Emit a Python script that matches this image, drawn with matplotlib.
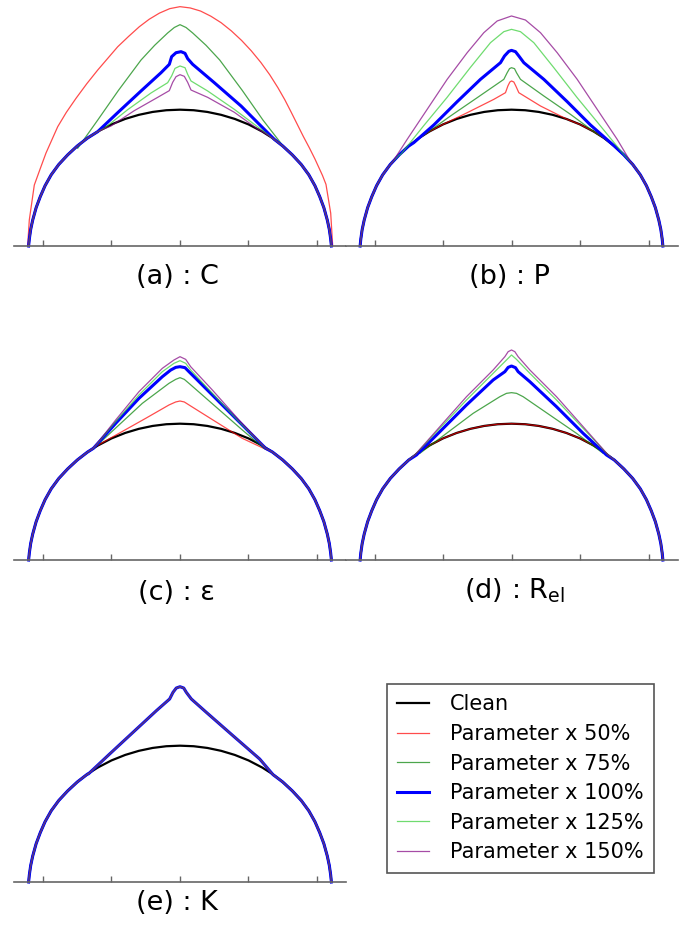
import matplotlib
matplotlib.use("Agg")
import matplotlib.pyplot as plt

# clean leading edge (x, y), one unit = one tick step
CLEAN = [(-2.21, 0.0), (-2.20, 0.10), (-2.18, 0.24), (-2.15, 0.38), (-2.10, 0.56),
         (-2.04, 0.72), (-1.97, 0.88), (-1.88, 1.04), (-1.77, 1.19), (-1.64, 1.33),
         (-1.50, 1.46), (-1.35, 1.576), (-1.20, 1.671), (-1.00, 1.775), (-0.80, 1.855),
         (-0.60, 1.915), (-0.40, 1.957), (-0.20, 1.982), (0.0, 1.99),
         (0.20, 1.982), (0.40, 1.957), (0.60, 1.915), (0.80, 1.855), (1.00, 1.775),
         (1.20, 1.671), (1.35, 1.576), (1.50, 1.46), (1.64, 1.33), (1.77, 1.19),
         (1.88, 1.04), (1.97, 0.88), (2.04, 0.72), (2.10, 0.56), (2.15, 0.38),
         (2.18, 0.24), (2.20, 0.10), (2.21, 0.0)]

# ice shapes: only the part that leaves the clean shape
# (a) : C
A50 = [(-2.224, 0.0), (-2.20, 0.38), (-2.127, 0.89), (-2.04, 1.13), (-1.956, 1.358),
       (-1.785, 1.742), (-1.66, 1.95), (-1.518, 2.156), (-1.36, 2.37), (-1.201, 2.569),
       (-1.05, 2.745), (-0.909, 2.909), (-0.75, 3.06), (-0.594, 3.201), (-0.45, 3.31),
       (-0.30, 3.40), (-0.15, 3.465), (0.0, 3.494), (0.15, 3.475), (0.30, 3.43),
       (0.45, 3.355), (0.60, 3.26), (0.75, 3.14), (0.90, 3.00), (1.04, 2.85), (1.18, 2.68),
       (1.31, 2.50), (1.43, 2.31), (1.53, 2.135), (1.62, 1.96), (1.71, 1.78), (1.80, 1.60),
       (1.89, 1.43), (1.97, 1.27), (2.08, 1.03), (2.131, 0.90), (2.20, 0.48), (2.229, 0.0)]
A75 = [(-1.494, 1.426), (-1.20, 1.84), (-0.90, 2.27), (-0.569, 2.715), (-0.37, 2.93),
       (-0.18, 3.11), (-0.083, 3.19), (0.0, 3.231), (0.088, 3.19), (0.185, 3.11),
       (0.38, 2.93), (0.58, 2.715), (0.91, 2.27), (1.21, 1.84), (1.52, 1.44)]
A100 = [(-1.202, 1.669), (-0.910, 1.946), (-0.569, 2.263), (-0.277, 2.530), (-0.156, 2.652),
        (-0.122, 2.764), (-0.058, 2.822), (0.015, 2.837), (0.073, 2.813), (0.112, 2.735),
        (0.185, 2.652), (0.501, 2.384), (0.891, 2.044), (1.134, 1.800), (1.377, 1.557)]
A125 = [(-1.105, 1.718), (-0.764, 1.990), (-0.423, 2.234), (-0.180, 2.384), (-0.122, 2.482),
        (-0.073, 2.593), (0.0, 2.628), (0.073, 2.603), (0.112, 2.506), (0.161, 2.409),
        (0.404, 2.263), (0.793, 1.995), (1.182, 1.703), (1.339, 1.581)]
A150 = [(-1.007, 1.752), (-0.667, 1.976), (-0.326, 2.170), (-0.156, 2.268), (-0.107, 2.389),
        (-0.058, 2.472), (0.0, 2.501), (0.063, 2.477), (0.112, 2.389), (0.161, 2.277),
        (0.404, 2.170), (0.793, 1.952), (1.134, 1.708)]

# (b) : P
B50 = [(-1.036, 1.757), (-0.647, 1.946), (-0.258, 2.141), (-0.088, 2.238), (-0.053, 2.336),
       (-0.024, 2.394), (0.0, 2.409), (0.034, 2.394), (0.063, 2.336), (0.107, 2.238),
       (0.423, 2.044), (0.813, 1.849), (1.007, 1.771)]
B75 = [(-1.280, 1.620), (-0.891, 1.898), (-0.501, 2.165), (-0.112, 2.433), (-0.063, 2.530),
       (-0.029, 2.589), (0.0, 2.603), (0.044, 2.589), (0.073, 2.530), (0.131, 2.433),
       (0.472, 2.190), (0.861, 1.922), (1.202, 1.670)]
B100 = [(-1.426, 1.509), (-1.134, 1.767), (-0.793, 2.107), (-0.453, 2.433), (-0.161, 2.676),
        (-0.102, 2.774), (-0.039, 2.842), (0.0, 2.856), (0.058, 2.837), (0.107, 2.774),
        (0.180, 2.676), (0.472, 2.433), (0.813, 2.107), (1.153, 1.767), (1.445, 1.509)]
B125 = [(-1.620, 1.333), (-1.285, 1.752), (-0.944, 2.165), (-0.603, 2.603), (-0.307, 2.968),
        (-0.112, 3.129), (0.0, 3.163), (0.131, 3.129), (0.326, 2.968), (0.618, 2.603),
        (0.959, 2.165), (1.299, 1.752), (1.640, 1.333)]
B150 = [(-1.742, 1.217), (-1.523, 1.557), (-1.231, 1.995), (-0.939, 2.433), (-0.647, 2.822),
        (-0.404, 3.114), (-0.209, 3.285), (0.0, 3.358), (0.204, 3.299), (0.423, 3.114),
        (0.667, 2.822), (0.959, 2.433), (1.251, 1.995), (1.543, 1.557), (1.737, 1.231)]

# (c) : epsilon
C50 = [(-1.280, 1.630), (-0.891, 1.849), (-0.501, 2.068), (-0.161, 2.263), (-0.063, 2.307),
       (0.0, 2.321), (0.063, 2.307), (0.156, 2.248), (0.521, 2.019), (0.910, 1.776),
       (1.251, 1.616)]
C75 = [(-1.231, 1.655), (-0.891, 1.971), (-0.550, 2.287), (-0.161, 2.579), (-0.063, 2.637),
       (0.0, 2.662), (0.063, 2.637), (0.131, 2.579), (0.521, 2.238), (0.910, 1.898),
       (1.226, 1.630)]
C100 = [(-1.265, 1.630), (-0.939, 1.995), (-0.599, 2.360), (-0.258, 2.676), (-0.136, 2.773),
        (-0.063, 2.812), (0.0, 2.822), (0.073, 2.808), (0.131, 2.749), (0.229, 2.652),
        (0.569, 2.311), (0.910, 1.971), (1.251, 1.630)]
C125 = [(-1.265, 1.630), (-0.939, 2.019), (-0.599, 2.409), (-0.258, 2.749), (-0.088, 2.871),
        (0.0, 2.910), (0.083, 2.871), (0.156, 2.774), (0.472, 2.433), (0.861, 2.019),
        (1.251, 1.630)]
C150 = [(-1.265, 1.630), (-0.939, 2.044), (-0.599, 2.457), (-0.258, 2.798), (-0.088, 2.920),
        (0.0, 2.968), (0.083, 2.929), (0.156, 2.822), (0.472, 2.482), (0.861, 2.044),
        (1.251, 1.630)]

# (d) : Rel  (50% stays on the clean shape)
D50 = []
D75 = [(-1.338, 1.557), (-0.949, 1.849), (-0.560, 2.141), (-0.170, 2.384), (-0.073, 2.433),
       (0.0, 2.443), (0.073, 2.433), (0.170, 2.384), (0.560, 2.116), (0.949, 1.849),
       (1.338, 1.557)]
D100 = [(-1.387, 1.533), (-1.046, 1.873), (-0.657, 2.263), (-0.268, 2.628), (-0.097, 2.749),
        (-0.049, 2.812), (0.0, 2.832), (0.058, 2.808), (0.097, 2.749), (0.268, 2.603),
        (0.657, 2.238), (1.046, 1.849), (1.387, 1.533)]
D125 = [(-1.411, 1.533), (-1.046, 1.922), (-0.657, 2.336), (-0.268, 2.725), (-0.073, 2.920),
        (0.0, 2.993), (0.073, 2.929), (0.268, 2.725), (0.657, 2.336), (1.046, 1.922),
        (1.411, 1.533)]
D150 = [(-1.411, 1.533), (-1.046, 1.946), (-0.657, 2.384), (-0.268, 2.774), (-0.097, 2.968),
        (-0.049, 3.041), (0.0, 3.066), (0.049, 3.041), (0.097, 2.968), (0.268, 2.774),
        (0.657, 2.384), (1.046, 1.946), (1.411, 1.533)]

# (e) : K  (every parameter gives the same shape)
E_ALL = [(-1.338, 1.577), (-1.027, 1.869), (-0.686, 2.185), (-0.345, 2.501), (-0.151, 2.672),
         (-0.102, 2.769), (-0.054, 2.832), (0.0, 2.851), (0.054, 2.832), (0.092, 2.769),
         (0.165, 2.672), (0.384, 2.477), (0.773, 2.136), (1.163, 1.796), (1.358, 1.567)]

PANELS = [
    [A50, A75, A100, A125, A150],
    [B50, B75, B100, B125, B150],
    [C50, C75, C100, C125, C150],
    [D50, D75, D100, D125, D150],
    [E_ALL, E_ALL, E_ALL, E_ALL, E_ALL],
]
PANEL_LABELS = ["(a) : C", "(b) : P", "(c) : ε", r"(d) : R$_{\mathregular{el}}$", "(e) : K"]
SERIES = ["Clean", "Parameter x 50%", "Parameter x 75%", "Parameter x 100%",
          "Parameter x 125%", "Parameter x 150%"]
TICKS = [-2, -1, 0, 1, 2]

colors = ["black", "red", "green", "blue", "limegreen", "purple"]
alphas = [1.0, 0.7, 0.7, 1.0, 0.7, 0.7]
widths = [1.6, 0.9, 0.9, 2.2, 0.9, 0.9]


def full_shape(top):
    # clean shape outside the ice part, ice points in between
    if not top:
        return [p[0] for p in CLEAN], [p[1] for p in CLEAN]
    left = [p for p in CLEAN if p[0] < top[0][0]]
    right = [p for p in CLEAN if p[0] > top[-1][0]]
    pts = left + top + right
    return [p[0] for p in pts], [p[1] for p in pts]


W, H = 684, 926
PX = 68.5  # pixels per unit
fig = plt.figure(figsize=(W / 100, H / 100), dpi=100)

# (center x, baseline y) in pixels, label position in pixels
spots = [(180, 246), (511.5, 246), (180, 560), (511.5, 560), (180, 882)]
label_pos = [(177, 277), (509, 277), (176, 593), (515, 591), (177, 903)]

half, tall = 166, 243
for i, (cx, base) in enumerate(spots):
    ax = fig.add_axes([(cx - half) / W, (H - base) / H, 2 * half / W, tall / H])
    ax.set_xlim(-half / PX, half / PX)
    ax.set_ylim(0, tall / PX)
    for s in ["left", "right", "top"]:
        ax.spines[s].set_visible(False)
    ax.spines["bottom"].set_color("#666666")
    ax.spines["bottom"].set_linewidth(1.2)
    ax.set_xticks(TICKS)
    ax.set_yticks([])
    ax.tick_params(axis="x", direction="in", length=4, width=1, color="#666666",
                   labelbottom=False)

    x, y = full_shape([])
    ax.plot(x, y, color=colors[0], lw=widths[0], alpha=alphas[0], label=SERIES[0],
            clip_on=False)
    for k, top in enumerate(PANELS[i]):
        x, y = full_shape(top)
        ax.plot(x, y, color=colors[k + 1], lw=widths[k + 1], alpha=alphas[k + 1],
                label=SERIES[k + 1], clip_on=False)
    if i == 0:
        handles, labels = ax.get_legend_handles_labels()

    lx, ly = label_pos[i]
    fig.text(lx / W, 1 - ly / H, PANEL_LABELS[i], fontsize=19.5, ha="center", va="center")

leg = fig.legend(handles, labels, loc="upper left", bbox_to_anchor=(387 / W, 1 - 684 / H),
                 borderaxespad=0, fontsize=15, handlelength=1.5, handletextpad=1.0,
                 labelspacing=0.46, borderpad=0.5, fancybox=False, framealpha=1)
leg.get_frame().set_edgecolor("#555555")
leg.get_frame().set_linewidth(1.2)

fig.savefig("out.png", dpi=100)
